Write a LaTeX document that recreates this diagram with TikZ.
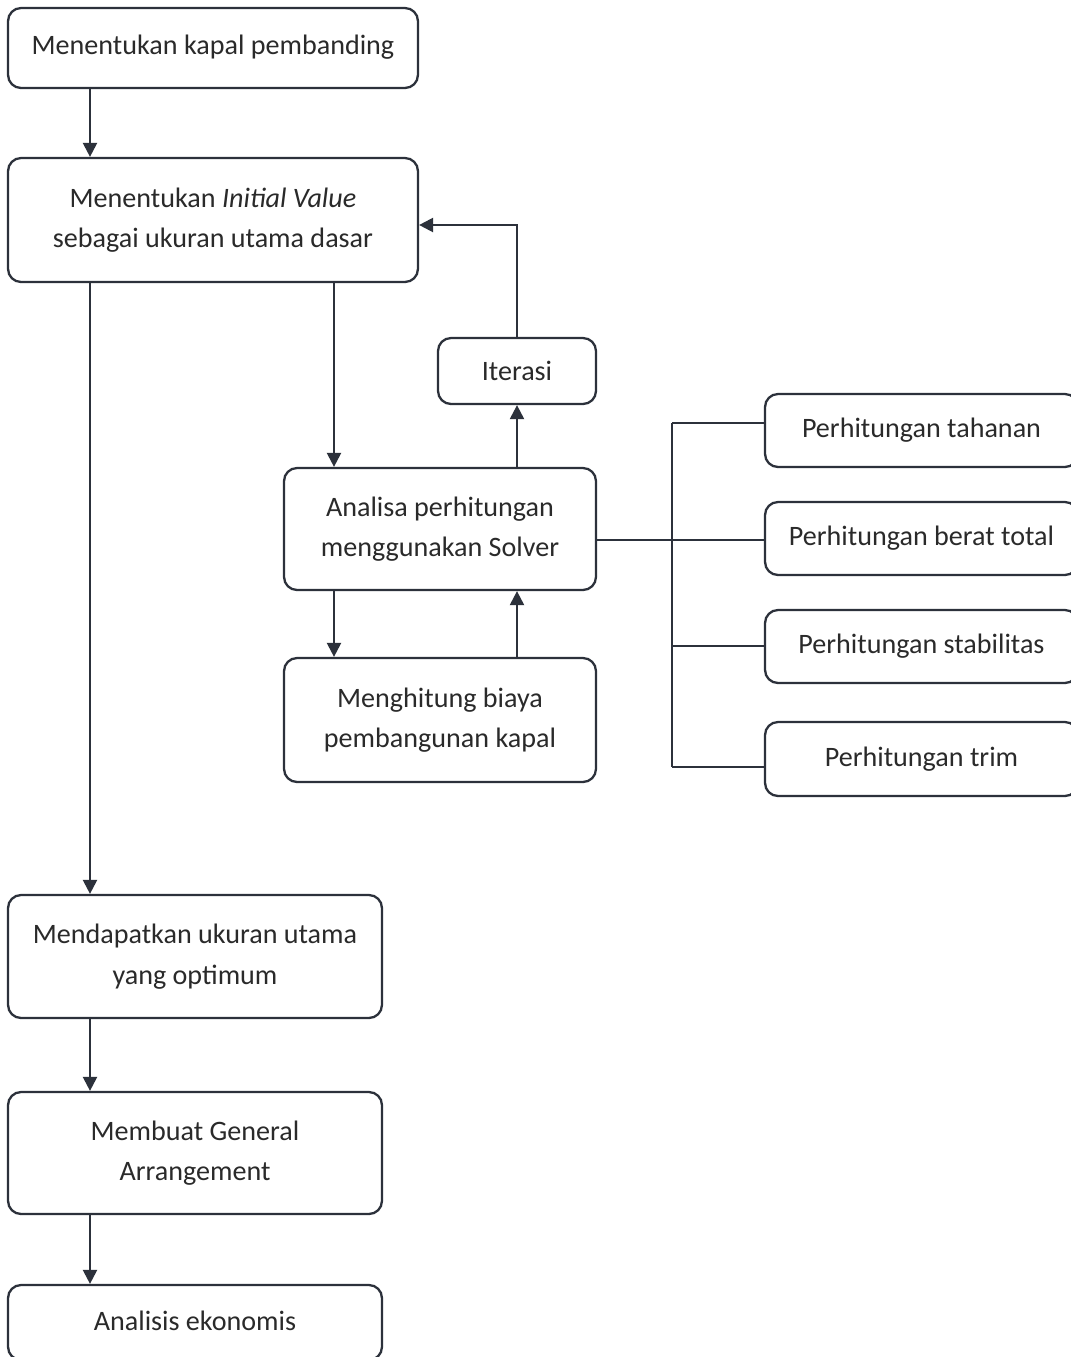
\documentclass[tikz,border=0pt]{standalone}
\usepackage{fontspec}
\setmainfont{Carlito}
\usetikzlibrary{arrows.meta}
\definecolor{ln}{HTML}{2C313B}
\definecolor{tx}{HTML}{2A2A2A}
\begin{document}
\begin{tikzpicture}[x=0.02cm,y=-0.02cm,
  box/.style={draw=ln,line width=1.3pt,rounded corners=0.26cm,fill=white,
    text=tx,align=center,inner sep=0pt,
    font=\fontsize{16}{23}\selectfont},
  arr/.style={draw=ln,line width=1.3pt,-{Triangle[width=8pt,length=8pt]}},
  ln/.style={draw=ln,line width=1.3pt}]
\clip (0,0) rectangle (1071,1357);
\fill[white] (0,0) rectangle (1071,1357);
% nodes
\node[box,minimum width=8.2cm,minimum height=1.6cm,text depth=0.12cm] (b1) at (213,48) {Menentukan kapal pembanding};
\node[box,minimum width=8.2cm,minimum height=2.48cm] (b2) at (213,220) {Menentukan \textit{Initial Value}\\sebagai ukuran utama dasar};
\node[box,minimum width=3.16cm,minimum height=1.32cm] (it) at (517,371) {Iterasi};
\node[box,minimum width=6.24cm,minimum height=2.44cm] (an) at (440,529) {Analisa perhitungan\\menggunakan Solver};
\node[box,minimum width=6.24cm,minimum height=2.48cm] (hb) at (440,720) {Menghitung biaya\\pembangunan kapal};
\node[box,minimum width=6.26cm,minimum height=1.46cm] (r1) at (921.5,430.5) {Perhitungan tahanan};
\node[box,minimum width=6.26cm,minimum height=1.46cm] (r2) at (921.5,538.5) {Perhitungan berat total};
\node[box,minimum width=6.26cm,minimum height=1.46cm] (r3) at (921.5,646.5) {Perhitungan stabilitas};
\node[box,minimum width=6.26cm,minimum height=1.48cm] (r4) at (921.5,759) {Perhitungan trim};
\node[box,minimum width=7.48cm,minimum height=2.46cm] (m1) at (195,956.5) {Mendapatkan ukuran utama\\yang optimum};
\node[box,minimum width=7.48cm,minimum height=2.44cm] (m2) at (195,1153) {Membuat General\\Arrangement};
\node[box,minimum width=7.48cm,minimum height=1.5cm,text depth=0.08cm] (m3) at (195,1322.5) {Analisis ekonomis};
% bus coordinates
\coordinate (t1) at (672,423);
\coordinate (t2) at (672,540);
\coordinate (t3) at (672,646);
\coordinate (t4) at (672,767);
% connectors
\draw[arr] (b1.south -| 90,0) -- (b2.north -| 90,0);
\draw[arr] (b2.south -| 90,0) -- (m1.north -| 90,0);
\draw[arr] (m1.south -| 90,0) -- (m2.north -| 90,0);
\draw[arr] (m2.south -| 90,0) -- (m3.north -| 90,0);
\draw[arr] (b2.south -| 334,0) -- (an.north -| 334,0);
\draw[arr] (an.north -| 517,0) -- (it.south);
\draw[arr] (it.north) |- ([yshift=-0.1cm]b2.east);
\draw[arr] (an.south -| 334,0) -- (hb.north -| 334,0);
\draw[arr] (hb.north -| 517,0) -- (an.south -| 517,0);
\draw[ln] (an.east |- t2) -- (r2.west |- t2);
\draw[ln] (t1) -- (t4);
\draw[ln] (t1) -- (r1.west |- t1);
\draw[ln] (t3) -- (r3.west |- t3);
\draw[ln] (t4) -- (r4.west |- t4);
\end{tikzpicture}
\end{document}
